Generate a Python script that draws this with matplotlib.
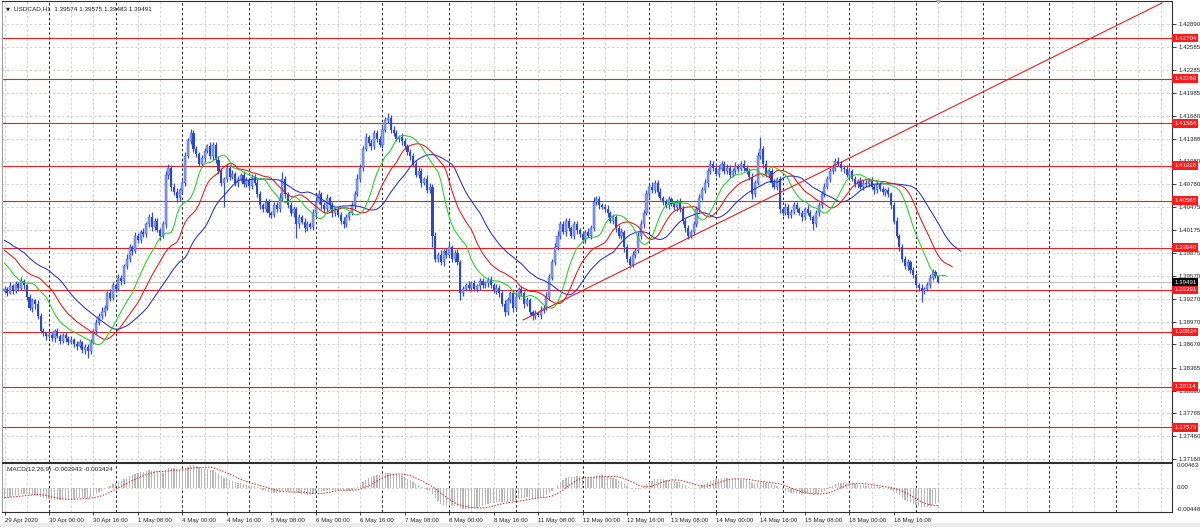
"""USDCAD H1 chart (MT4 style) with Alligator, support/resistance levels and MACD."""

import numpy as np
import pandas as pd
import matplotlib
matplotlib.use("Agg")
import matplotlib.pyplot as plt
from matplotlib.transforms import blended_transform_factory

plt.rcParams['font.family'] = ['Liberation Sans', 'DejaVu Sans']

# ---------------------------------------------------------------- data
BASE = 1.39000
PIP = 0.0001

# closes in pips above 1.39000, one per H1 bar (29 Apr 08:00 .. 19 May 08:00)
first_open = 38
close_pips = [
    40, 35, 44, 38, 46, 42, 50, 45,
    30, 15, 25, 20, 5, -15,
    -18, -22, -20, -25, -15, -22, -28, -20, -25, -30, -27,
    -32, -35, -30, -40, -36, -42, -30,
    -15, -5, 5, 10,
    15, 35, 28, 45, 40,
    55, 50, 70, 80, 95, 90,
    110, 105, 115, 112,
    125, 135, 122, 130, 118, 110, 125,
    190, 200,
    175, 168, 160, 170, 180,
    215, 235, 245, 225,
    218, 205, 212, 222, 228, 215, 230, 210,
    195, 180, 185, 200, 188, 192, 180,
    185, 190, 178, 183, 176, 188, 180,
    165, 150, 145, 155, 140, 138, 150, 145, 160,
    185, 165,
    150, 140, 145, 125, 135, 128, 120, 125, 122,
    140, 155, 165, 150, 145, 160, 150, 140, 145, 138,
    130, 125, 135, 140, 150,
    165, 185, 200,
    225, 240, 232, 228, 245, 238, 230, 250,
    262, 265, 250, 245, 238, 240,
    235, 228, 220, 215,
    205, 190, 195, 180, 185, 170, 175,
    110, 80, 85,
    75, 90, 85, 95, 80, 88, 75,
    35, 40, 45, 42, 48, 40, 44, 50, 45, 48, 52, 45, 38, 42, 35,
    20, 10, 25, 35, 15, 30,
    40, 35, 20, 25,
    10, 5, 8, 6, 12, 15,
    30, 55, 75, 95, 110,
    125, 115, 130, 120, 110, 125, 118, 112, 105, 115, 110, 120,
    155, 158, 150, 148, 145, 140,
    130, 135, 120, 110, 115,
    95, 80, 72, 85, 90,
    110, 125, 140,
    165, 175, 170, 180, 168, 160,
    155, 150, 158, 152, 148, 155, 145,
    130, 120, 110, 115, 125,
    145, 160, 170, 180,
    195, 205, 200, 192, 198, 205, 195, 200, 190, 196, 202, 198, 205, 200, 195, 188,
    165, 180,
    215, 225, 205,
    190, 195, 180, 175, 185,
    145, 140, 148, 138, 142, 150, 145, 140, 135, 145, 140, 135, 125, 140, 150,
    165, 175, 185,
    195, 200, 208, 205, 200, 198, 190, 195,
    185, 178, 182, 175, 180,
    178, 182, 175, 170, 178, 172, 168, 170, 165,
    150, 130, 110,
    95, 80, 70, 75, 65, 58,
    45, 42, 38, 40, 45,
    55, 62, 57.4, 49.1,
]

# wick lengths in pips above max(open, close) / below min(open, close)
wick_up = [
    4, 3, 5, 2, 4, 3, 6, 3, 2, 4, 3, 2, 5, 3, 4, 2, 5, 3, 2, 4,
    3, 2, 4, 3, 5, 2, 3, 4, 2, 3, 3, 4, 2, 5, 3, 6, 4, 3, 5, 4,
    3, 5, 4, 3, 6, 4, 3, 5, 4, 3, 5, 3, 4, 6, 3, 4, 2, 5, 6, 4,
    3, 4, 5, 3, 4, 6, 4, 6, 5, 4, 3, 5, 4, 3, 6, 4, 3, 5, 4, 3,
    4, 3, 5, 2, 4, 3, 5, 4, 3, 4, 3, 5, 4, 3, 5, 4, 3, 4, 5, 6,
    9, 4, 3, 5, 4, 3, 4, 3, 5, 4, 3, 5, 4, 6, 3, 4, 5, 3, 4, 3,
    4, 3, 5, 4, 3, 5, 4, 6, 5, 4, 5, 3, 6, 4, 5, 3, 6, 5, 7, 4,
    5, 4, 3, 5, 4, 3, 5, 4, 3, 6, 4, 3, 5, 4, 3, 5, 4, 6, 3, 4,
    5, 3, 4, 5, 3, 4, 3, 5, 3, 4, 3, 5, 4, 3, 4, 5, 3, 4, 3, 4,
    5, 4, 3, 4, 6, 3, 4, 3, 4, 3, 3, 4, 3, 5, 4, 6, 5, 4, 5, 6,
    4, 5, 3, 4, 3, 5, 4, 3, 4, 3, 5, 4, 6, 5, 4, 3, 4, 5, 3, 4,
    3, 4, 5, 3, 4, 3, 5, 4, 5, 6, 4, 5, 4, 6, 3, 4, 5, 3, 4, 5,
    3, 4, 3, 5, 4, 3, 4, 3, 5, 4, 5, 4, 5, 4, 5, 3, 4, 5, 3, 4,
    5, 3, 4, 5, 3, 4, 5, 3, 4, 5, 4, 6, 15, 4, 5, 3, 4, 5, 3, 4,
    3, 5, 4, 3, 4, 5, 3, 4, 3, 5, 4, 3, 4, 5, 4, 5, 4, 5, 4, 4,
    6, 4, 3, 5, 4, 3, 4, 3, 5, 4, 3, 4, 5, 3, 4, 3, 4, 3, 4, 3,
    4, 5, 3, 4, 3, 4, 3, 4, 3, 3, 4, 3, 4, 5, 4, 3, 0.1,
]
wick_dn = [
    3, 4, 2, 5, 3, 4, 3, 5, 4, 3, 5, 6, 4, 3, 4, 5, 3, 4, 5, 3,
    4, 3, 5, 4, 3, 4, 5, 3, 4, 5, 9, 4, 3, 4, 3, 4, 5, 3, 4, 3,
    4, 3, 5, 4, 3, 4, 5, 3, 4, 5, 3, 4, 3, 5, 4, 3, 5, 3, 4, 5,
    6, 4, 5, 4, 3, 4, 3, 4, 5, 4, 3, 4, 5, 3, 4, 5, 4, 3, 4, 32,
    4, 5, 3, 4, 5, 3, 4, 3, 5, 4, 3, 4, 5, 3, 4, 5, 4, 3, 4, 3,
    4, 5, 3, 4, 5, 18, 4, 3, 5, 4, 3, 4, 5, 3, 4, 5, 3, 4, 5, 4,
    3, 5, 4, 3, 4, 3, 4, 3, 4, 5, 3, 4, 5, 3, 4, 3, 4, 3, 4, 5,
    4, 3, 4, 5, 3, 4, 5, 4, 3, 4, 5, 3, 4, 3, 15, 5, 4, 3, 5, 4,
    3, 5, 4, 3, 10, 4, 3, 5, 4, 3, 4, 5, 3, 4, 5, 4, 3, 4, 5, 3,
    5, 4, 3, 5, 4, 3, 4, 5, 3, 4, 6, 4, 3, 5, 4, 3, 4, 3, 4, 3,
    4, 3, 5, 4, 3, 4, 5, 3, 4, 5, 3, 4, 3, 4, 5, 3, 4, 5, 3, 4,
    5, 3, 4, 6, 5, 4, 3, 4, 3, 4, 5, 3, 4, 3, 4, 5, 3, 4, 3, 4,
    3, 4, 5, 3, 4, 5, 4, 3, 4, 3, 4, 3, 4, 5, 3, 4, 3, 4, 3, 4,
    3, 4, 3, 5, 4, 3, 4, 3, 5, 6, 4, 3, 4, 5, 3, 4, 5, 3, 4, 5,
    4, 3, 4, 5, 3, 4, 3, 5, 4, 3, 4, 7, 3, 4, 3, 4, 3, 4, 3, 4,
    3, 4, 5, 3, 4, 3, 4, 5, 3, 4, 3, 4, 3, 5, 4, 3, 4, 5, 4, 5,
    4, 3, 5, 4, 3, 5, 4, 3, 4, 5, 15, 4, 3, 4, 3, 3, 0.8,
]

# Alligator values shown left of the first computed point (pips above 1.39)
jaw_lead = [104, 102, 100, 97, 95, 93, 90, 88]
teeth_lead = [91, 88, 85, 82, 79]
lips_lead = [74, 70, 66]

# MACD(12,26,9) state before the first bar
ema_fast_seed = 1.39460
ema_slow_seed = 1.39650
macd_range = (-0.00448, 0.00463)
macd_caption = "MACD(12,26,9) -0.002943 -0.003424"

# drawn objects
levels = [1.42704, 1.42169, 1.41584, 1.41026, 1.40565,
          1.39946, 1.39391, 1.38834, 1.38114, 1.37579]
trend_bars = [186.6, 416.5]
trend_prices = [1.38992, 1.43167]

price_ticks = [1.42890, 1.42585, 1.42285, 1.41985, 1.41680, 1.41380, 1.41080,
               1.40780, 1.40475, 1.40175, 1.39875, 1.39570, 1.39270, 1.38970,
               1.38670, 1.38365, 1.38060, 1.37765, 1.37460, 1.37160]
price_range = (1.37122, 1.43193)

time_labels = ['29 Apr 2020', '30 Apr 00:00', '30 Apr 16:00', '1 May 08:00',
               '4 May 00:00', '4 May 16:00', '5 May 08:00', '6 May 00:00',
               '6 May 16:00', '7 May 08:00', '8 May 00:00', '8 May 16:00',
               '11 May 08:00', '12 May 00:00', '12 May 16:00', '13 May 08:00',
               '14 May 00:00', '14 May 16:00', '15 May 08:00', '18 May 00:00',
               '18 May 16:00']
LABEL_STEP = 16      # bars between time labels
FIRST_DAY_BAR = 16   # 30 Apr 00:00
X_RANGE = (-0.9, 420.1)


def smma(values, period, seed):
    """Smoothed moving average as used by the Alligator."""
    out = []
    prev = seed
    for v in values:
        prev = (prev * (period - 1) + v) / period
        out.append(prev)
    return out


def draw_grid(ax, n_right):
    """Light dotted grid every 8 bars, dark day separators every 24."""
    for b in range(0, int(n_right), 8):
        if b >= FIRST_DAY_BAR and (b - FIRST_DAY_BAR) % 24 == 0:
            ax.axvline(b, color='#202020', lw=0.7, ls=(0, (2.5, 2.5)), zorder=1)
        else:
            ax.axvline(b, color='#c8c8c8', lw=0.6, ls=(0, (2.5, 3)), zorder=0)


# ---------------------------------------------------------------- prices
close = BASE + np.array(close_pips, dtype=float) * PIP
opens = np.concatenate([[BASE + first_open * PIP], close[:-1]])
high = np.maximum(opens, close) + np.array(wick_up) * PIP
low = np.minimum(opens, close) - np.array(wick_dn) * PIP
bars = np.arange(len(close))
median = (high + low) / 2

fig = plt.figure(figsize=(12, 5.27), dpi=100)
W, H = 1200.0, 527.0
ax = fig.add_axes([2 / W, 1 - 462 / H, 1170 / W, 461 / H])
axm = fig.add_axes([2 / W, 1 - 512 / H, 1170 / W, 49 / H], sharex=ax)

# background strip like the terminal window
fig.patches.append(plt.Rectangle((0, 0), 1, 4 / H, transform=fig.transFigure,
                                 color='#ececec', zorder=-1))

# grid
draw_grid(ax, X_RANGE[1])
draw_grid(axm, X_RANGE[1])
for p in price_ticks:
    ax.axhline(p, color='#c8c8c8', lw=0.6, ls=(0, (2.5, 3)), zorder=0)
axm.axhline(0, color='#c8c8c8', lw=0.6, ls=(0, (2.5, 3)), zorder=0)

# candles
bull = close >= opens
ax.vlines(bars, low, high, color='#3350c8', lw=0.9, zorder=3)
body_lo = np.minimum(opens, close)
body_h = np.maximum(np.abs(close - opens), 0.3 * PIP)
ax.bar(bars[~bull], body_h[~bull], bottom=body_lo[~bull], width=0.75,
       color='#2c48c2', linewidth=0, zorder=4)
ax.bar(bars[bull], body_h[bull], bottom=body_lo[bull], width=0.75,
       color='#8aa0ea', edgecolor='#3350c8', linewidth=0.3, zorder=4)

# Alligator (jaw 13/8, teeth 8/5, lips 5/3)
for lead, period, col in [(jaw_lead, 13, '#2530c8'),
                          (teeth_lead, 8, '#e01818'),
                          (lips_lead, 5, '#22d022')]:
    lead_p = BASE + np.array(lead, dtype=float) * PIP
    vals = smma(median, period, lead_p[-1])
    y = np.concatenate([lead_p, vals])
    ax.plot(np.arange(len(y)), y, color=col, lw=0.75, zorder=5)

# horizontal levels and trend line
for lv in levels:
    ax.axhline(lv, color='#e82020', lw=0.8, zorder=2)
ax.axhline(close[-1], color='#c0c0c0', lw=0.8, zorder=2)
ax.plot(trend_bars, trend_prices, color='#e82020', lw=0.8, zorder=6)

ax.set_xlim(*X_RANGE)
ax.set_ylim(*price_range)

# chart shift marker above the last bar
ax.plot([bars[-1]], [price_range[1]], marker='v', ms=3, color='#b0b0b0',
        clip_on=False, zorder=7, transform=ax.transData)

# right price scale
ax.yaxis.tick_right()
ax.set_yticks(price_ticks)
ax.set_yticklabels([f"{p:.5f}" for p in price_ticks])
ax.tick_params(axis='y', length=3, width=0.6, pad=1.5, labelsize=4.4,
               colors='#202020')
ax.tick_params(axis='x', bottom=False, labelbottom=False)
blend = blended_transform_factory(ax.transAxes, ax.transData)
for lv in levels:
    ax.text(1.0018, lv, f"{lv:.5f}", transform=blend, ha='left', va='center',
            fontsize=4.4, color='white', zorder=10, clip_on=False,
            bbox=dict(boxstyle='square,pad=0.3', fc='#ff1a1a', ec='none'))
ax.text(1.0018, close[-1], f"{close[-1]:.5f}", transform=blend, ha='left',
        va='center', fontsize=4.4, color='white', zorder=10, clip_on=False,
        bbox=dict(boxstyle='square,pad=0.3', fc='#000000', ec='none'))

# chart caption
ax.text(4 / 1170, 1 - 7.5 / 461, "▼", transform=ax.transAxes, fontsize=3.8,
        va='center', ha='left', color='#202020', family='DejaVu Sans')
ax.text(12 / 1170, 1 - 7.5 / 461,
        f"USDCAD,H1  {opens[-1]:.5f} {high[-1]:.5f} {low[-1]:.5f} {close[-1]:.5f}",
        transform=ax.transAxes, fontsize=4.6, va='center', ha='left',
        color='#202020')

# ---------------------------------------------------------------- MACD
cs = pd.Series(close)
ema_fast = pd.concat([pd.Series([ema_fast_seed]), cs]).ewm(span=12, adjust=False).mean()[1:]
ema_slow = pd.concat([pd.Series([ema_slow_seed]), cs]).ewm(span=26, adjust=False).mean()[1:]
macd = (ema_fast - ema_slow).to_numpy()
signal = pd.Series(macd).rolling(9, min_periods=1).mean().to_numpy()

axm.bar(bars, macd, width=0.45, color='#b8b8b8', linewidth=0, zorder=3)
axm.plot(bars, signal, color='#e02020', lw=0.7, ls=(0, (1.5, 1.5)), zorder=4)
axm.set_ylim(*macd_range)
axm.set_yticks([])
axm.text(5 / 1170, 1 - 7 / 49, macd_caption, transform=axm.transAxes,
         fontsize=4.6, va='center', ha='left', color='#202020')
mblend = blended_transform_factory(axm.transAxes, axm.transData)
axm.text(1.0043, macd_range[1], f"{macd_range[1]:.5f}", transform=mblend,
         ha='left', va='top', fontsize=4.4, color='#202020')
axm.text(1.0043, 0, "0.00", transform=mblend, ha='left', va='center',
         fontsize=4.4, color='#202020')
axm.text(1.0043, macd_range[0], f"{macd_range[0]:.5f}", transform=mblend,
         ha='left', va='bottom', fontsize=4.4, color='#202020')

# time axis
axm.set_xticks(np.arange(len(time_labels)) * LABEL_STEP)
axm.set_xticklabels(time_labels, ha='left')
axm.tick_params(axis='x', length=2.5, width=0.6, pad=1.5, labelsize=4.4,
                colors='#202020')

for a in (ax, axm):
    for s in a.spines.values():
        s.set_color('#303030')
        s.set_linewidth(0.8)
    a.spines['left'].set_color('#a0a0a0')
    a.set_facecolor('white')

fig.savefig('out.png', dpi=100)
print("bars:", len(close), "macd max/min:", macd.max(), macd.min())
